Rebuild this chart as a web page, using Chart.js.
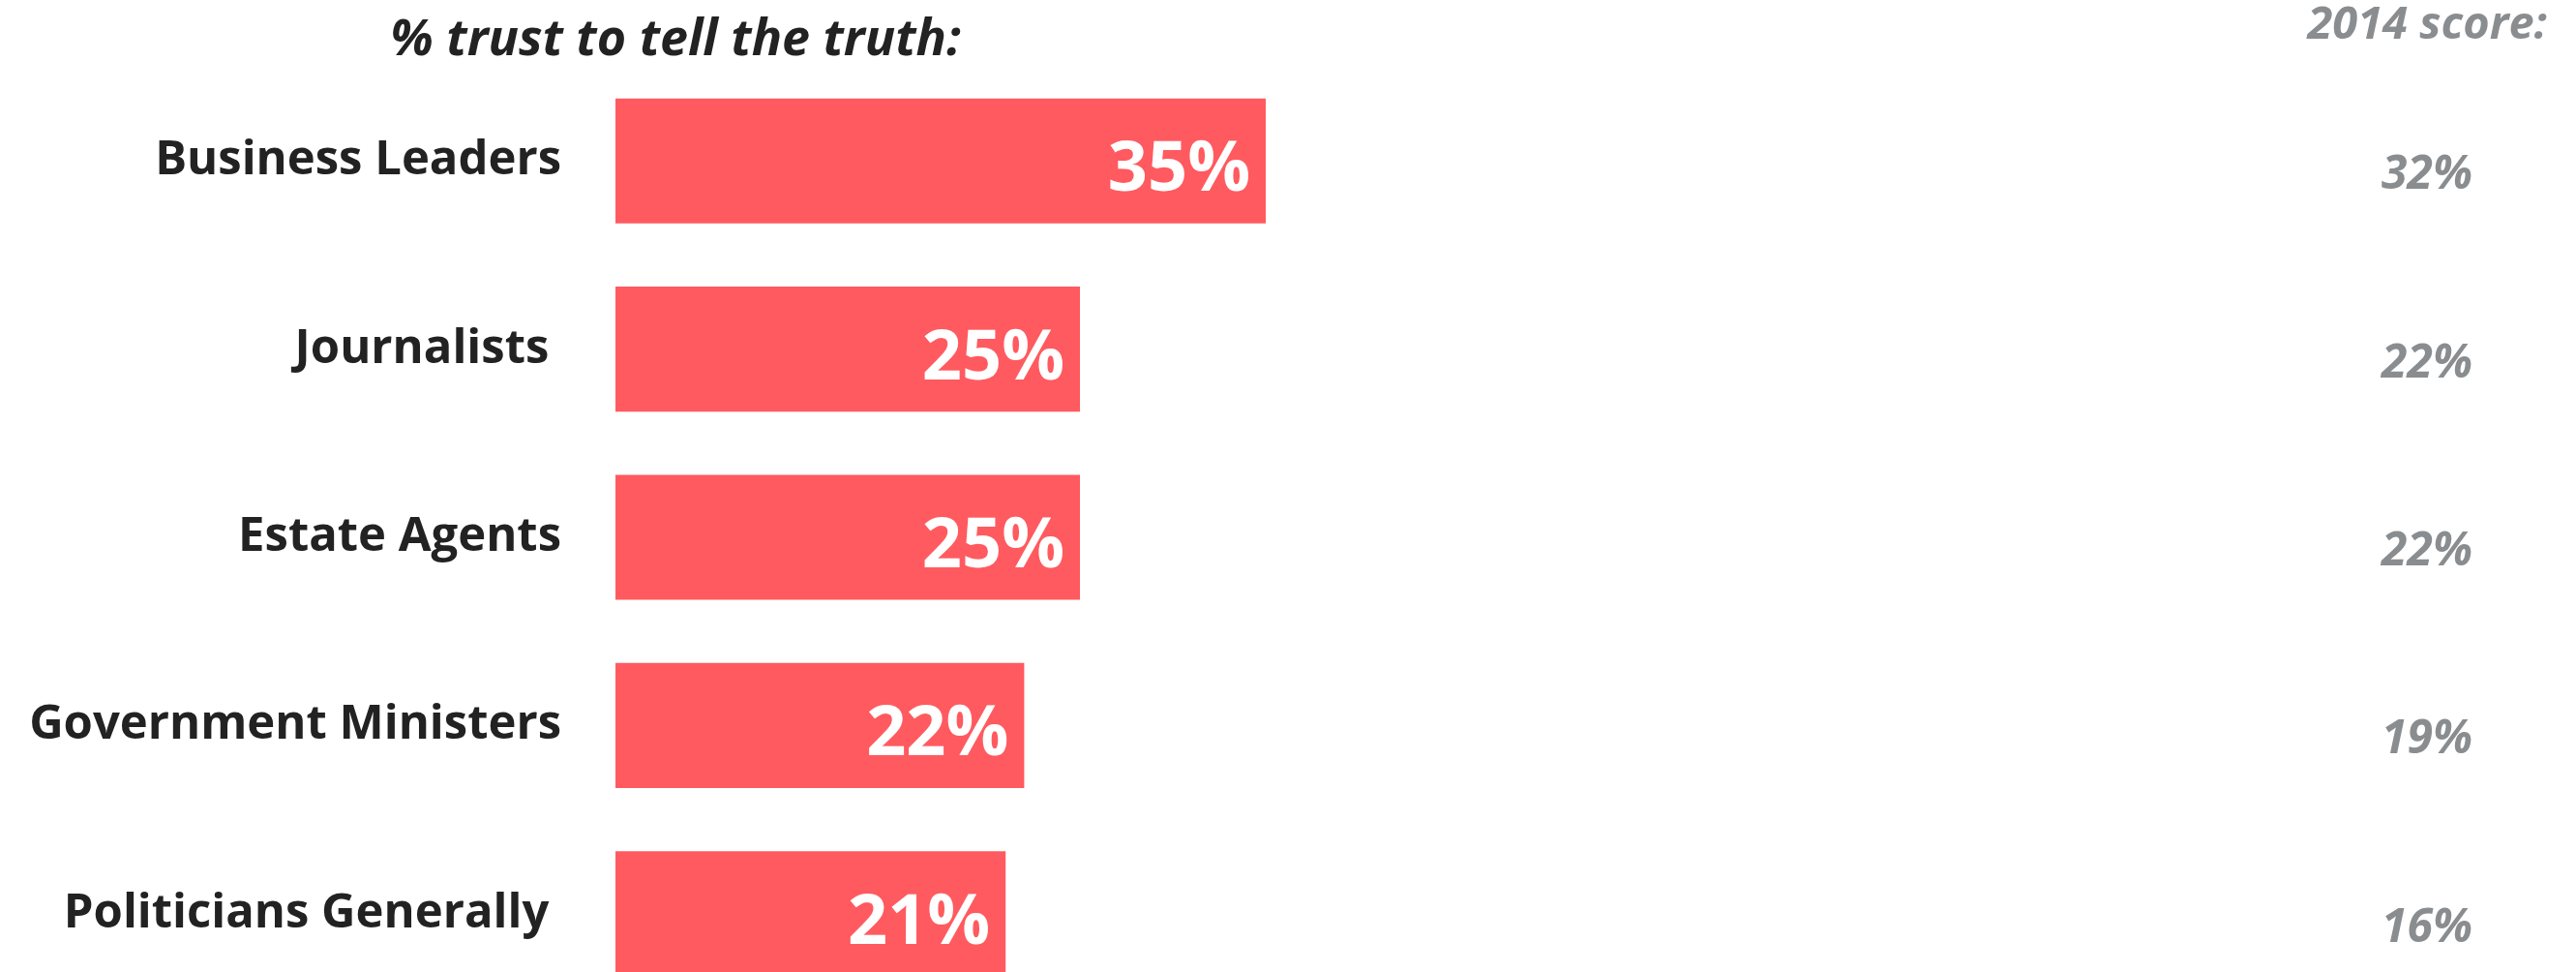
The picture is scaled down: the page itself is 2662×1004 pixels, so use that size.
<!DOCTYPE html>
<html>
<head>
<meta charset="utf-8">
<script src="https://cdn.jsdelivr.net/npm/chart.js@4.4.1/dist/chart.umd.min.js"></script>
<style>
  html, body { margin: 0; padding: 0; background: #fff; overflow: hidden; }
  #wrap { width: 2662px; height: 1041px; }
</style>
</head>
<body>
<div id="wrap"><canvas id="chart" width="2662" height="1041"></canvas></div>
<script>
const groups = ['Business Leaders', 'Journalists ', 'Estate Agents', 'Government Ministers', 'Politicians Generally '];
const trust2015 = [35, 25, 25, 22, 21];
const score2014 = [32, 22, 22, 19, 16];

const BAR_COLOR = '#FF5A5F';
const DARK = '#222222';
const GREY = '#8A8D90';
const FONT = '"Open Sans", "Noto Sans", sans-serif';

const textPlugin = {
  id: 'textPlugin',
  afterDatasetsDraw(chart) {
    const { ctx } = chart;
    const meta = chart.getDatasetMeta(0);
    const yScale = chart.scales.y;
    ctx.save();

    // values inside bars
    ctx.fillStyle = '#ffffff';
    ctx.font = `bold 72px ${FONT}`;
    ctx.textAlign = 'right';
    ctx.textBaseline = 'alphabetic';
    meta.data.forEach((bar, i) => {
      ctx.fillText(trust2015[i] + '%', bar.x - 16, bar.y + 31);
    });

    // 2014 scores on the right
    ctx.fillStyle = GREY;
    ctx.font = `italic bold 48px ${FONT}`;
    score2014.forEach((v, i) => {
      ctx.fillText(v + '%', 2555, yScale.getPixelForValue(i) + 29);
    });

    // headers
    ctx.font = `italic bold 47px ${FONT}`;
    ctx.fillText('2014 score:', 2632, 40);

    ctx.fillStyle = DARK;
    ctx.font = `italic bold 52px ${FONT}`;
    ctx.textAlign = 'center';
    ctx.fillText('% trust to tell the truth:', 698, 57);

    ctx.restore();
  }
};

new Chart(document.getElementById('chart'), {
  type: 'bar',
  data: {
    labels: groups,
    datasets: [{
      data: trust2015,
      backgroundColor: BAR_COLOR,
      borderWidth: 0,
      categoryPercentage: 1,
      barPercentage: 0.664,
    }],
  },
  options: {
    indexAxis: 'y',
    responsive: false,
    devicePixelRatio: 1,
    animation: false,
    layout: { padding: { top: 69, right: 106, bottom: 0, left: 0 } },
    scales: {
      x: { display: false, min: 0, max: 100 },
      y: {
        afterFit: (scale) => {
          scale.width = 636;
          scale.paddingTop = 0;
          scale.paddingBottom = 0;
        },
        grid: { display: false, drawTicks: false },
        border: { display: false },
        ticks: {
          padding: 56,
          color: DARK,
          font: { family: FONT, size: 49, weight: 'bold' },
        },
      },
    },
    plugins: {
      legend: { display: false },
      tooltip: { enabled: false },
    },
  },
  plugins: [textPlugin],
});
</script>
</body>
</html>
